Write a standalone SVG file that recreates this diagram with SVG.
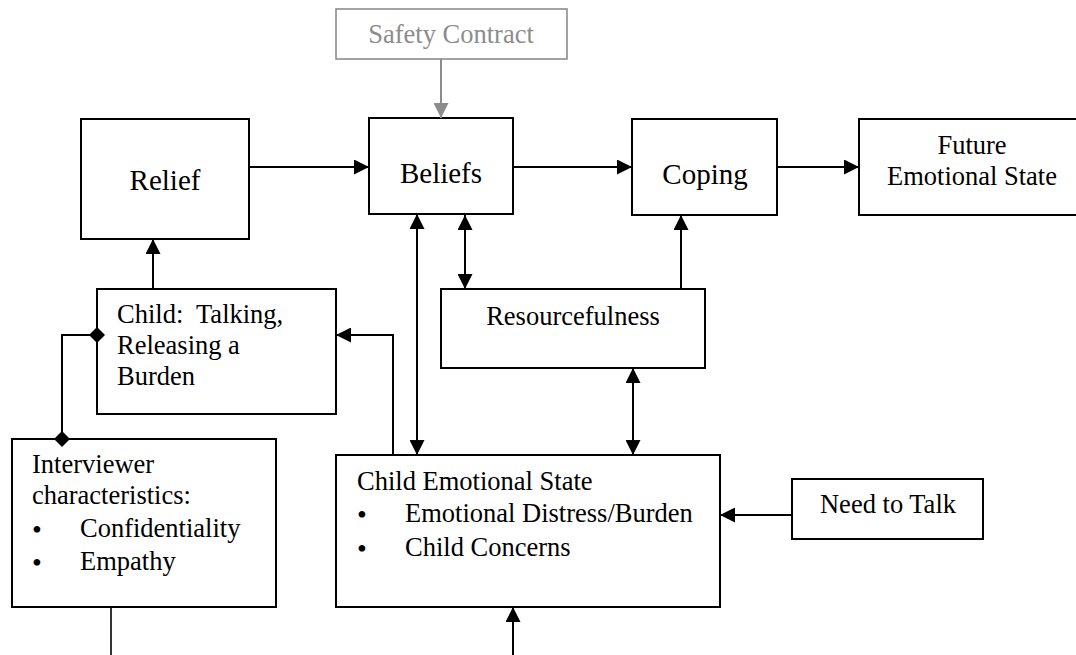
<svg xmlns="http://www.w3.org/2000/svg" width="1076" height="655" viewBox="0 0 1076 655">
<style>
.box{fill:#fff;stroke:#000;stroke-width:2}
.gbox{fill:#fff;stroke:#8c8c8c;stroke-width:1.6}
.t{font-family:"Liberation Serif","Times New Roman",serif;font-size:26.5px;fill:#000}
.big{font-size:29px}
.bul{font-size:28px}
.g{fill:#8c8c8c}
.mid{text-anchor:middle}
.ln{fill:none;stroke:#000;stroke-width:2}
.gln{fill:none;stroke:#8c8c8c;stroke-width:2}
</style>
<defs>
<marker id="ah" markerUnits="userSpaceOnUse" markerWidth="15" markerHeight="15" refX="15" refY="7.5" orient="auto-start-reverse"><path d="M0,0 L15,7.5 L0,15 z" fill="#000"/></marker>
<marker id="gah" markerUnits="userSpaceOnUse" markerWidth="15" markerHeight="15" refX="15" refY="7.5" orient="auto"><path d="M0,0 L15,7.5 L0,15 z" fill="#8c8c8c"/></marker>
<marker id="dm" markerUnits="userSpaceOnUse" markerWidth="16" markerHeight="16" refX="8" refY="8" orient="auto"><path d="M0,8 L8,0 L16,8 L8,16 z" fill="#000"/></marker>
</defs>
<rect width="1076" height="655" fill="#fff"/>

<g id="safety-contract">
<rect class="gbox" x="336" y="9" width="231" height="50"/>
<text class="t g mid" x="451" y="43">Safety Contract</text>
</g>
<g id="relief">
<rect class="box" x="81" y="119" width="168" height="120"/>
<text class="t big mid" x="165" y="190">Relief</text>
</g>
<g id="beliefs">
<rect class="box" x="369" y="118" width="144" height="96"/>
<text class="t big mid" x="441" y="183">Beliefs</text>
</g>
<g id="coping">
<rect class="box" x="632" y="119" width="145" height="96"/>
<text class="t big mid" x="705" y="184">Coping</text>
</g>
<g id="future-emotional-state">
<rect class="box" x="859" y="119" width="220" height="96"/>
<text class="t mid" x="972" y="154">Future</text>
<text class="t mid" x="972" y="185">Emotional State</text>
</g>
<g id="resourcefulness">
<rect class="box" x="441" y="289" width="264" height="79"/>
<text class="t mid" x="573" y="325">Resourcefulness</text>
</g>
<g id="child-talking">
<rect class="box" x="97" y="289" width="239" height="125"/>
<text class="t" x="117" y="323" xml:space="preserve">Child:  Talking,</text>
<text class="t" x="117" y="354">Releasing a</text>
<text class="t" x="117" y="385">Burden</text>
</g>
<g id="interviewer">
<rect class="box" x="12" y="439" width="264" height="168"/>
<text class="t" x="32" y="473">Interviewer</text>
<text class="t" x="32" y="504">characteristics:</text>
<text class="t bul" x="32" y="539">•</text>
<text class="t" x="80" y="537">Confidentiality</text>
<text class="t bul" x="32" y="572">•</text>
<text class="t" x="80" y="570">Empathy</text>
</g>
<g id="child-emotional-state">
<rect class="box" x="336" y="455" width="384" height="152"/>
<text class="t" x="357" y="490">Child Emotional State</text>
<text class="t bul" x="357" y="524">•</text>
<text class="t" x="405" y="522">Emotional Distress/Burden</text>
<text class="t bul" x="357" y="558">•</text>
<text class="t" x="405" y="556">Child Concerns</text>
</g>
<g id="need-to-talk">
<rect class="box" x="792" y="479" width="191" height="60"/>
<text class="t mid" x="888" y="513">Need to Talk</text>
</g>

<g id="connectors">
<line class="gln" x1="441" y1="59" x2="441" y2="118" marker-end="url(#gah)"/>
<line class="ln" x1="249" y1="167" x2="369" y2="167" marker-end="url(#ah)"/>
<line class="ln" x1="513" y1="167" x2="632" y2="167" marker-end="url(#ah)"/>
<line class="ln" x1="777" y1="167" x2="859" y2="167" marker-end="url(#ah)"/>
<line class="ln" x1="153" y1="289" x2="153" y2="239" marker-end="url(#ah)"/>
<line class="ln" x1="681" y1="289" x2="681" y2="215" marker-end="url(#ah)"/>
<line class="ln" x1="465" y1="215" x2="465" y2="289" marker-start="url(#ah)" marker-end="url(#ah)"/>
<line class="ln" x1="417" y1="214" x2="417" y2="455" marker-start="url(#ah)" marker-end="url(#ah)"/>
<line class="ln" x1="633" y1="368" x2="633" y2="455" marker-start="url(#ah)" marker-end="url(#ah)"/>
<polyline class="ln" points="393,455 393,335 336,335" marker-end="url(#ah)"/>
<line class="ln" x1="792" y1="515" x2="720" y2="515" marker-end="url(#ah)"/>
<polyline class="ln" points="97,335 62,335 62,439" marker-start="url(#dm)" marker-end="url(#dm)"/>
<line class="ln" x1="111" y1="607" x2="111" y2="655" style="stroke-width:1.6"/>
<line class="ln" x1="513" y1="655" x2="513" y2="607" marker-end="url(#ah)"/>
</g>
</svg>
